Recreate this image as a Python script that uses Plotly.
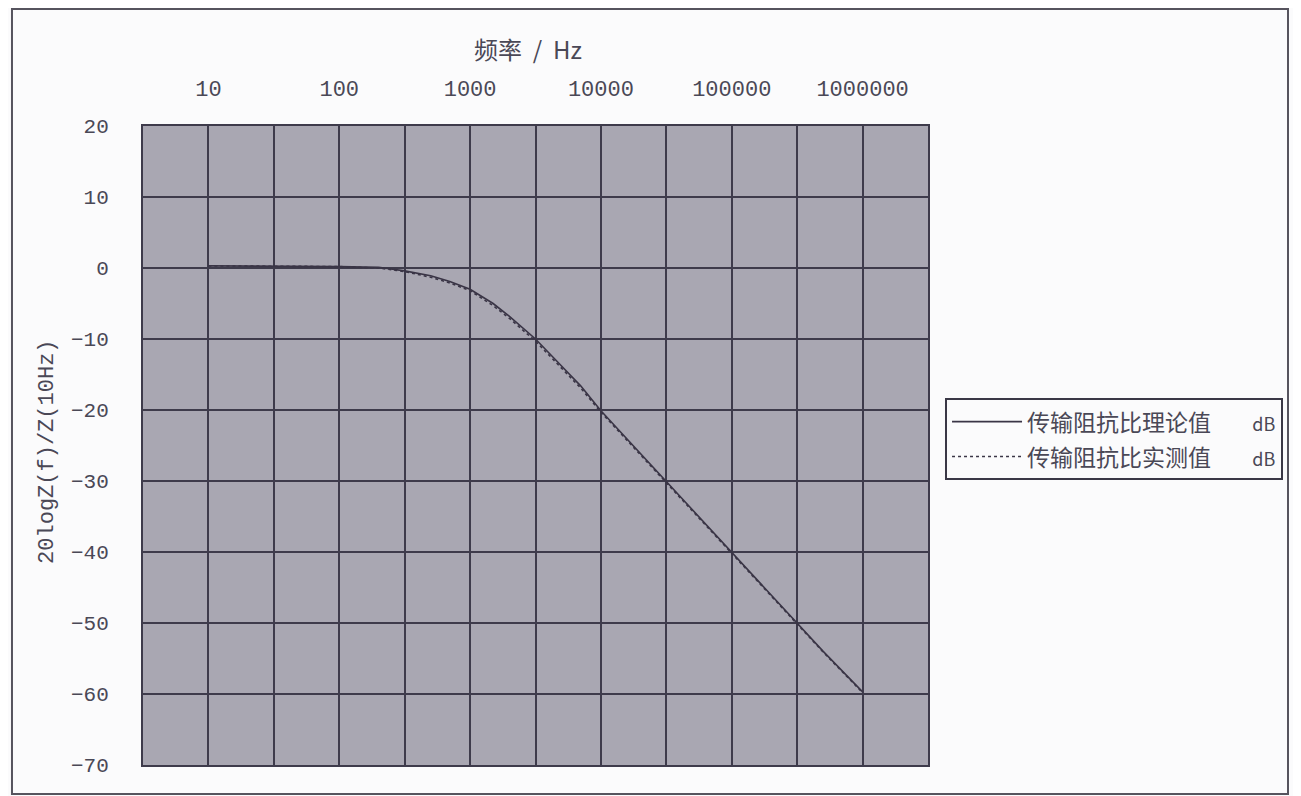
import plotly.graph_objects as go

# Frequencies (Hz)
freq = [10, 20, 50, 100, 200, 316, 500, 700, 1000, 1500, 2000, 3162, 5000, 7000,
        10000, 20000, 31623, 50000, 100000, 200000, 316228, 500000, 1000000]
# Theoretical transfer-impedance ratio (dB)
theory_db = [0.3, 0.3, 0.3, 0.2, 0.1, -0.4, -1.1, -1.9, -3.0, -5.0, -6.8, -10.0, -13.8, -16.6,
             -20.1, -26.1, -30.0, -34.0, -40.0, -46.0, -50.0, -54.0, -59.7]
# Measured transfer-impedance ratio (dB)
measured_db = [0.3, 0.3, 0.3, 0.2, 0.0, -0.5, -1.3, -2.1, -3.2, -5.3, -7.1, -10.3, -14.1, -16.9,
               -20.3, -26.3, -30.2, -34.2, -40.1, -46.1, -50.1, -54.1, -59.8]

x_tickvals = [10**(k / 2) for k in range(1, 14)]
x_ticktext = ["" if k % 2 else str(int(10**(k // 2))) for k in range(1, 14)]

GAP = "\u00a0" * 8
series_names = ["传输阻抗比理论值" + GAP + "<span style='font-size:18px'>dB</span>",
                "传输阻抗比实测值" + GAP + "<span style='font-size:18px'>dB</span>"]

x_title = "频率\u00a0\u00a0/\u00a0\u00a0Hz"
y_title = "20logZ(f)/Z(10Hz)"

TXT = "#4a4856"
GRID = "#3e3b4b"
CJK = "Noto Sans CJK SC"
MONO = "Liberation Mono"

fig = go.Figure()
fig.add_trace(go.Scatter(x=freq, y=theory_db, mode="lines", name=series_names[0],
                         line=dict(color="#3a3546", width=1.6), legendgroup="a"))
fig.add_trace(go.Scatter(x=freq, y=measured_db, mode="lines", name=series_names[1],
                         line=dict(color="#3a3546", width=1.6, dash="dot"), legendgroup="b"))

fig.update_layout(
    width=1293, height=788,
    margin=dict(l=135, r=373, t=118, b=31, autoexpand=False),
    paper_bgcolor="#fbfbfc",
    plot_bgcolor="#a9a7b2",
    font=dict(family=MONO, color=TXT, size=21),
    showlegend=True,
    legend=dict(x=1.0217, y=0.574, xanchor="left", yanchor="top",
                bgcolor="#fbfbfc", bordercolor="#3a3846", borderwidth=2,
                font=dict(family=CJK, size=23, color=TXT),
                itemwidth=70, tracegroupgap=2, itemclick=False),
    xaxis=dict(type="log", side="top", range=[0.5, 6.5],
               tickmode="array", tickvals=x_tickvals, ticktext=x_ticktext,
               showgrid=True, gridcolor=GRID, gridwidth=2,
               showline=True, linecolor=GRID, linewidth=2, mirror=True,
               ticks="", ticklabelstandoff=19,
               tickfont=dict(family=MONO, size=22, color=TXT), zeroline=False),
    yaxis=dict(range=[-70, 20], dtick=10, tick0=0,
               showgrid=True, gridcolor=GRID, gridwidth=2,
               showline=True, linecolor=GRID, linewidth=2, mirror=True,
               ticks="", ticklabelstandoff=28, zeroline=False,
               tickfont=dict(family=MONO, size=21, color=TXT)),
    annotations=[
        dict(text=x_title, xref="paper", yref="paper", x=0.49, y=1.122,
             xanchor="center", yanchor="middle", showarrow=False,
             font=dict(family=CJK, size=24, color=TXT)),
        dict(text=y_title, xref="paper", yref="paper", x=-0.121, y=0.49,
             xanchor="center", yanchor="middle", showarrow=False, textangle=-90,
             font=dict(family=MONO, size=22, color=TXT)),
    ],
    shapes=[dict(type="rect", xref="paper", yref="paper",
                 x0=-0.1669, x1=1.4586, y0=-0.0454, y1=1.1832,
                 line=dict(color="#56545e", width=2), layer="below")],
)

fig.write_html("out.html")
